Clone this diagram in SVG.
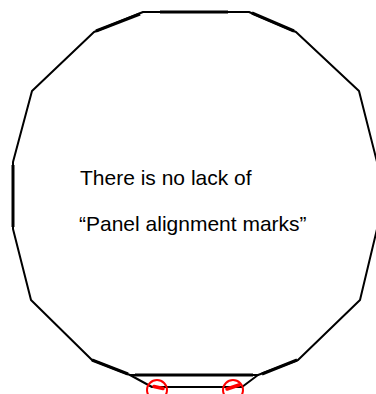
<svg xmlns="http://www.w3.org/2000/svg" width="376" height="394" viewBox="0 0 376 394">
<style>
.edge{fill:none;stroke:#000;stroke-width:2;stroke-linejoin:round;stroke-linecap:round}
.thick{fill:none;stroke:#000;stroke-width:3;stroke-linecap:butt}
.mark{fill:none;stroke:#ff0000;stroke-width:2}
.markfill{fill:none;stroke:#ff0000;stroke-width:3.5;stroke-linecap:round}
.label{font-family:"Liberation Sans",Arial,sans-serif;font-size:21px;fill:#000}
</style>
<rect width="376" height="394" fill="#fff"/>
<g id="connectors">
<polyline class="edge" points="130,375 92,360 31,300 13,229 13,162 32,91 94,32 143,12 249,12 296,32 359,91 377,162 377,229 360,300 298,360 258,375"/>
<polyline class="edge" points="130,375 152,387 242,387 258,375 130,375"/>
<line class="thick" x1="160" y1="12" x2="228" y2="12"/>
<line class="thick" x1="13" y1="165" x2="13" y2="227"/>
<line class="thick" x1="96" y1="31" x2="140" y2="14"/>
<line class="thick" x1="252" y1="13" x2="294" y2="31"/>
<line class="thick" x1="135" y1="375" x2="253" y2="375"/>
<line class="thick" x1="92" y1="360" x2="128" y2="374"/>
<line class="thick" x1="262" y1="374" x2="297" y2="360"/>
</g>
<g id="text">
<text class="label" x="80" y="185">There is no lack of</text>
<text class="label" x="79" y="231">“Panel alignment marks”</text>
</g>
<g id="marks">
<circle class="mark" cx="157" cy="390" r="10"/>
<circle class="mark" cx="233" cy="390" r="10"/>
<line class="markfill" x1="154" y1="386.5" x2="163" y2="388.5"/>
<line class="markfill" x1="227" y1="389" x2="239" y2="385"/>
</g>
</svg>
